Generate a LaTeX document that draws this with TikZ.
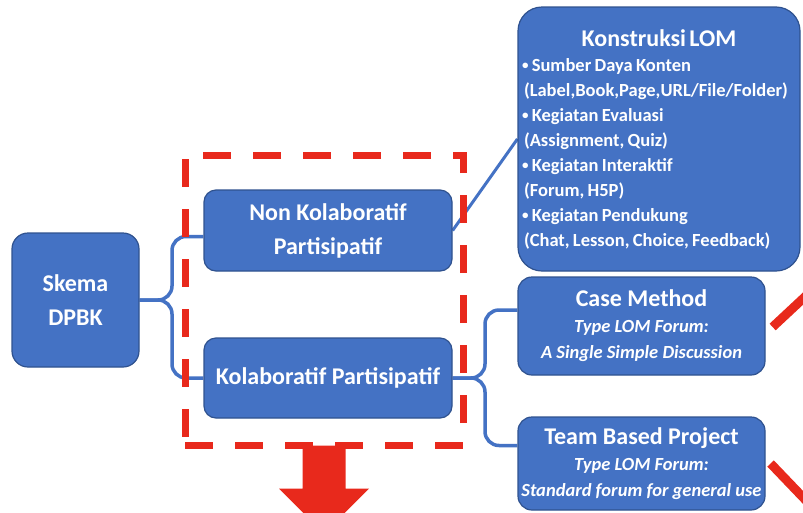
\documentclass[tikz,border=0pt]{standalone}
\usepackage{fontspec}
\setmainfont{Carlito}
\definecolor{boxblue}{RGB}{68,114,196}
\definecolor{boxedge}{RGB}{47,82,143}
\definecolor{markred}{RGB}{232,41,28}
\usetikzlibrary{calc,backgrounds}
\tikzstyle{base}=[x=1pt, y=-1pt]
\tikzstyle{box}=[draw=boxedge, fill=boxblue, line width=1.2pt, text=white, inner sep=2pt]
\tikzstyle{conn}=[draw=boxblue, line width=3.5pt, rounded corners=14pt]
\tikzstyle{dashbox}=[draw=markred, line width=7pt, dash pattern=on 28pt off 22pt]
\tikzstyle{redline}=[draw=markred, line width=9pt]
\newcommand*{\bigfont}{\bfseries\fontsize{24}{34}\selectfont}
\newcommand*{\smallfont}{\bfseries\itshape\fontsize{18.5}{26}\selectfont}
\newcommand*{\dotitem}{\raisebox{1.5pt}{\fontsize{13}{13}\selectfont\textbullet}\ }

\begin{document}
\begin{tikzpicture}[base]
    \path [use as bounding box] (0,0) rectangle (803,512);
    \clip (0,0) rectangle (803,512);
    % boxes
    \node [box, align=center, rounded corners=16pt, minimum width=127pt, minimum height=134pt, font=\bigfont] (skema) at (75.5,300) {Skema\\DPBK};
    \node [box, align=center, rounded corners=12pt, minimum width=248pt, minimum height=81pt, font=\bigfont] (nonkol) at (328,230.5) {Non Kolaboratif\\Partisipatif};
    \node [box, align=center, rounded corners=12pt, minimum width=248pt, minimum height=80pt, font=\bigfont] (kolab) at (328,378) {Kolaboratif Partisipatif};
    \node [box, rounded corners=24pt, minimum width=282pt, minimum height=264pt, text width=274pt, inner sep=4pt] (lom) at (659,139) {%
        {\centering\bfseries\fontsize{24}{28}\selectfont Konstruksi LOM\par}
        \raggedright\bfseries\fontsize{18.5}{25}\selectfont
        \dotitem Sumber Daya Konten\newline
        \hspace*{2pt}(Label,Book,Page,URL/File/Folder)\newline
        \dotitem Kegiatan Evaluasi\newline
        \hspace*{2pt}(Assignment, Quiz)\newline
        \dotitem Kegiatan Interaktif\newline
        \hspace*{2pt}(Forum, H5P)\newline
        \dotitem Kegiatan Pendukung\newline
        \hspace*{2pt}(Chat, Lesson, Choice, Feedback)\par};
    \node [box, align=center, rounded corners=14pt, minimum width=247pt, minimum height=98pt, font=\smallfont] (casem) at (641.5,326)
        {{\bigfont\upshape Case Method}\\Type LOM Forum:\\A Single Simple Discussion};
    \node [box, align=center, rounded corners=14pt, minimum width=247pt, minimum height=93pt, font=\smallfont] (team) at (641.5,463.5)
        {{\bigfont\upshape Team Based Project}\\Type LOM Forum:\\Standard forum for general use};
    % connectors
    \coordinate (fork) at (172,300);
    \coordinate (fork2) at (485,378);
    \begin{scope}[on background layer]
    \draw [conn] (skema.east) -- (fork) |- ([yshift=-6pt]nonkol.west);
    \draw [conn] (skema.east) -- (fork) |- (kolab.west);
    \draw [conn] (kolab.east) -- (fork2) |- ([yshift=16pt]casem.west);
    \draw [conn] (kolab.east) -- (fork2) |- ([yshift=18pt]team.west);
    \draw [conn, line width=3pt] (nonkol.east) -- (lom.west);
    \end{scope}
    % red marks
    \node [dashbox, minimum width=278pt, minimum height=290pt] (group) at (324,300) {};
    \fill [markred] ($(group.south)+(-21.5,-3)$) -- ($(group.south)+(21.5,-3)$)
        -- ($(group.south)+(21.5,40)$) -- ($(group.south)+(45,40)$)
        -- ($(group.south)+(0,85)$) -- ($(group.south)+(-45,40)$)
        -- ($(group.south)+(-21.5,40)$) -- cycle;
    \draw [redline] ($(casem.east)+(7,1)$) -- ++(45,-42);
    \draw [redline] ($(team.east)+(5,0)$) -- ++(45,47);
\end{tikzpicture}
\end{document}
